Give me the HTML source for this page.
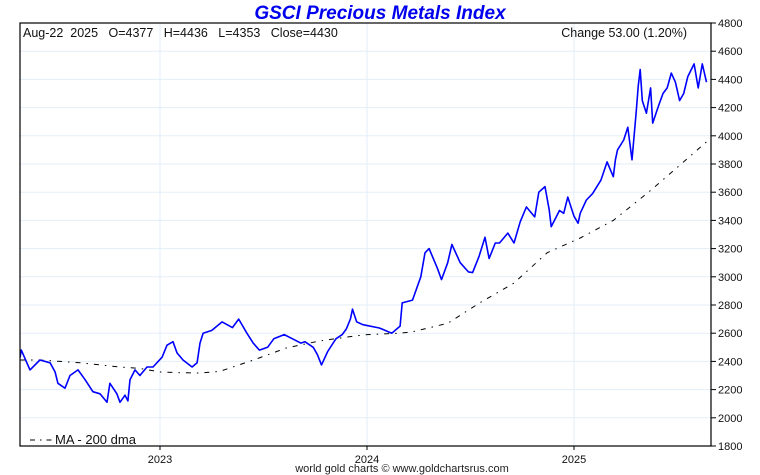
<!DOCTYPE html>
<html><head><meta charset="utf-8"><style>
html,body{margin:0;padding:0;background:#fff;}
svg{display:block;font-family:"Liberation Sans",sans-serif;}
.pre{white-space:pre;}
</style></head><body>
<svg id="chart" width="760" height="475" viewBox="0 0 760 475">
<text x="380" y="19" text-anchor="middle" font-size="19" font-weight="bold" font-style="italic" fill="#0000ee">GSCI Precious Metals Index</text>
<g id="grid"></g>
<g id="series"></g>
<rect x="20" y="23" width="691" height="423" fill="none" stroke="#000" stroke-width="1.2"/>
<g id="axes"></g>
<text class="pre" x="23" y="37" font-size="12.5" fill="#111" xml:space="preserve">Aug-22  2025   O=4377   H=4436   L=4353   Close=4430</text>
<text x="687" y="37" text-anchor="end" font-size="12.5" fill="#111">Change 53.00 (1.20%)</text>
<line x1="30" y1="440" x2="52" y2="440" stroke="#000" stroke-dasharray="5,5,1.5,5"/>
<text x="55" y="444" font-size="13" fill="#111">MA - 200 dma</text>
<text x="402" y="472" text-anchor="middle" font-size="11" fill="#222">world gold charts © www.goldchartsrus.com</text>
</svg>
<script>
const yTicks=[1800,2000,2200,2400,2600,2800,3000,3200,3400,3600,3800,4000,4200,4400,4600,4800];
const xTicks=[2023,2024,2025];
const priceDates=[2022.324,2022.330,2022.372,2022.420,2022.469,2022.493,2022.507,2022.541,2022.565,2022.604,2022.638,2022.676,2022.710,2022.744,2022.758,2022.792,2022.807,2022.831,2022.845,2022.855,2022.879,2022.903,2022.937,2022.966,2023.010,2023.034,2023.063,2023.082,2023.111,2023.155,2023.179,2023.193,2023.208,2023.25,2023.30,2023.35,2023.38,2023.42,2023.45,2023.48,2023.52,2023.55,2023.60,2023.64,2023.68,2023.70,2023.74,2023.76,2023.78,2023.81,2023.85,2023.88,2023.90,2023.92,2023.93,2023.95,2023.98,2024.06,2024.12,2024.16,2024.17,2024.22,2024.26,2024.28,2024.30,2024.34,2024.36,2024.39,2024.41,2024.45,2024.49,2024.51,2024.54,2024.57,2024.59,2024.62,2024.64,2024.68,2024.71,2024.74,2024.77,2024.81,2024.83,2024.86,2024.88,2024.89,2024.93,2024.95,2024.97,2025.00,2025.02,2025.03,2025.06,2025.09,2025.13,2025.16,2025.19,2025.20,2025.21,2025.24,2025.26,2025.28,2025.30,2025.31,2025.32,2025.33,2025.35,2025.37,2025.38,2025.41,2025.43,2025.45,2025.47,2025.49,2025.51,2025.53,2025.55,2025.58,2025.60,2025.62,2025.64];
const priceValues=[2430,2480,2340,2410,2390,2325,2245,2210,2300,2340,2270,2185,2170,2110,2245,2170,2110,2160,2120,2270,2340,2300,2360,2360,2430,2515,2540,2460,2410,2360,2390,2530,2600,2620,2680,2640,2700,2600,2530,2480,2500,2560,2590,2560,2530,2540,2500,2450,2375,2470,2560,2590,2630,2700,2770,2680,2660,2637,2600,2650,2815,2835,3000,3170,3200,3060,2980,3100,3230,3100,3035,3030,3140,3280,3130,3240,3240,3310,3240,3390,3495,3425,3600,3640,3475,3355,3470,3450,3565,3430,3380,3450,3545,3590,3685,3815,3710,3830,3900,3970,4060,3830,4160,4350,4470,4250,4160,4340,4090,4220,4300,4340,4445,4380,4250,4300,4420,4510,4340,4510,4380,4430];
const maDates=[2022.324,2022.420,2022.517,2022.614,2022.710,2022.807,2022.903,2023.0,2023.097,2023.193,2023.29,2023.452,2023.61,2023.77,2023.94,2024.0,2024.16,2024.22,2024.39,2024.55,2024.71,2024.87,2025.03,2025.19,2025.36,2025.51,2025.65];
const maValues=[2410,2410,2400,2390,2375,2360,2350,2325,2320,2318,2330,2410,2495,2545,2580,2590,2600,2610,2670,2820,2955,3170,3275,3400,3600,3790,3970];

const L=20,R=711,T=23,B=446;
const yScale=v=>B-(v-1800)/(4800-1800)*(B-T);
const xScale=d=>160+(d-2023)*207;
const NS="http://www.w3.org/2000/svg";
const grid=document.getElementById('grid'),axes=document.getElementById('axes'),series=document.getElementById('series');
function mk(tag,attrs,parent){const e=document.createElementNS(NS,tag);for(const k in attrs)e.setAttribute(k,attrs[k]);parent.appendChild(e);return e;}
yTicks.forEach(v=>{
  const y=yScale(v);
  if(v>1800&&v<4800){const g=mk('line',{x1:L,x2:R,y1:y,y2:y,stroke:'#e3eef8','stroke-width':1},grid);
  
  }
  const t=mk('line',{x1:R,x2:R+5,y1:y,y2:y,stroke:'#000'},axes);
  
  
  const lb=mk('text',{x:R+7,y:y+4,'font-size':11,fill:'#111'},axes);lb.textContent=v;
  
  
});
xTicks.forEach(d=>{
  const x=xScale(d);
  const g=mk('line',{x1:x,x2:x,y1:T,y2:B,stroke:'#e3eef8'},grid);
  
  
  const t=mk('line',{x1:x,x2:x,y1:B,y2:B+4,stroke:'#000'},axes);
  
  
  const lb=mk('text',{x:x,y:B+17,'font-size':11,fill:'#111','text-anchor':'middle'},axes);lb.textContent=d;
  
  
});
const maPts=maDates.map((d,i)=>xScale(d).toFixed(1)+','+yScale(maValues[i]).toFixed(1)).join(' ');
const ma=mk('polyline',{points:maPts,fill:'none',stroke:'#000','stroke-width':1,'stroke-dasharray':'5,6,1.5,6'},series);


const pPts=priceDates.map((d,i)=>xScale(d).toFixed(1)+','+yScale(priceValues[i]).toFixed(1)).join(' ');
const pl=mk('polyline',{points:pPts,fill:'none',stroke:'#0000ff','stroke-width':1.6,'stroke-linejoin':'round'},series);


</script>
</body></html>
